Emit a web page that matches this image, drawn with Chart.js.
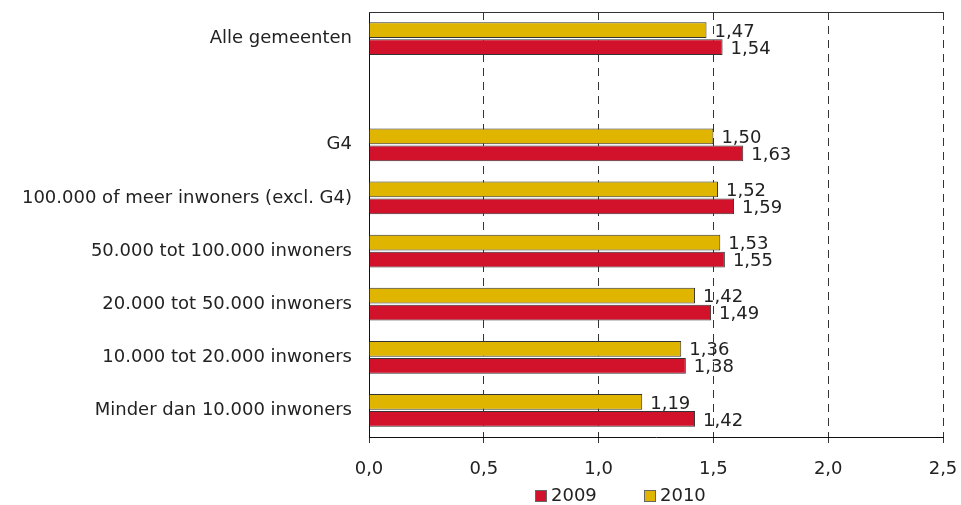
<!DOCTYPE html>
<html>
<head>
<meta charset="utf-8">
<script src="https://cdn.jsdelivr.net/npm/chart.js@4/dist/chart.umd.min.js"></script>
<style>
  html, body { margin: 0; padding: 0; background: #fff; }
  #wrap { width: 961px; height: 505px; }
</style>
</head>
<body>
<div id="wrap"><canvas id="chart"></canvas></div>
<script>
// ================== Data ==================
const categories = [
  'Alle gemeenten',
  '',
  'G4',
  '100.000 of meer inwoners (excl. G4)',
  '50.000 tot 100.000 inwoners',
  '20.000 tot 50.000 inwoners',
  '10.000 tot 20.000 inwoners',
  'Minder dan 10.000 inwoners'
];
const values2010 = [1.47, null, 1.50, 1.52, 1.53, 1.42, 1.36, 1.19];
const values2009 = [1.54, null, 1.63, 1.59, 1.55, 1.49, 1.38, 1.42];
const xTicks = [0, 0.5, 1.0, 1.5, 2.0, 2.5];

const FONT = "'DejaVu Sans', Verdana, sans-serif";
const FSIZE = 18;
const fmt = v => v.toFixed(2).replace('.', ',');

// Plugin: value labels at end of bars
const BarLabelPlugin = {
  id: 'barLabels',
  afterDatasetsDraw(chart) {
    const { ctx } = chart;
    ctx.save();
    ctx.font = FSIZE + 'px ' + FONT;
    ctx.fillStyle = '#222';
    ctx.textAlign = 'left';
    ctx.textBaseline = 'middle';
    chart.data.datasets.forEach((ds, i) => {
      chart.getDatasetMeta(i).data.forEach((bar, j) => {
        const v = ds.data[j];
        if (v == null) return;
        ctx.fillText(fmt(v), bar.x + 8, bar.y + 2);
      });
    });
    ctx.restore();
  }
};

// Plugin: top border of plot area
const TopLinePlugin = {
  id: 'topLine',
  afterDraw(chart) {
    const { ctx, chartArea: a } = chart;
    ctx.save();
    ctx.strokeStyle = '#333';
    ctx.lineWidth = 1;
    ctx.beginPath();
    ctx.moveTo(a.left, a.top + 0.5);
    ctx.lineTo(a.right, a.top + 0.5);
    ctx.stroke();
    ctx.restore();
  }
};

// Plugin: legend below the axis (2009 first, then 2010)
const LegendPlugin = {
  id: 'bottomLegend',
  afterDraw(chart) {
    const { ctx } = chart;
    const items = chart.data.datasets.slice().reverse();
    let x = 535;
    const y = 496;
    ctx.save();
    ctx.font = FSIZE + 'px ' + FONT;
    ctx.textBaseline = 'middle';
    items.forEach(ds => {
      ctx.fillStyle = ds.backgroundColor;
      ctx.fillRect(x, y - 6, 12, 12);
      ctx.strokeStyle = '#666';
      ctx.lineWidth = 1;
      ctx.strokeRect(x + 0.5, y - 5.5, 11, 11);
      ctx.fillStyle = '#222';
      ctx.fillText(ds.label, x + 16, y);
      x += 109;
    });
    ctx.restore();
  }
};

new Chart(document.getElementById('chart'), {
  type: 'bar',
  plugins: [BarLabelPlugin, TopLinePlugin, LegendPlugin],
  data: {
    labels: categories,
    datasets: [
      { label: '2010', data: values2010, backgroundColor: '#DFB500', borderColor: '#333', borderWidth: 1 },
      { label: '2009', data: values2009, backgroundColor: '#D2122A', borderColor: '#333', borderWidth: 1 }
    ]
  },
  options: {
    indexAxis: 'y',
    responsive: true,
    maintainAspectRatio: false,
    animation: false,
    categoryPercentage: 0.64,
    barPercentage: 0.92,
    layout: { padding: { top: 12, right: 18, left: 0, bottom: 28 } },
    plugins: {
      tooltip: { enabled: false },
      legend: { display: false }
    },
    scales: {
      x: {
        min: 0,
        max: 2.5,
        afterBuildTicks: s => { s.ticks = xTicks.map(v => ({ value: v })); },
        afterFit: s => {
          s.height = 40;
          s.paddingLeft = 0; s.paddingRight = 0;
        },
        ticks: {
          font: { family: FONT, size: FSIZE },
          color: '#222',
          padding: 16,
          maxRotation: 0,
          callback: v => v.toFixed(1).replace('.', ',')
        },
        grid: {
          color: '#333',
          tickColor: '#333',
          tickLength: 6,
          lineWidth: 1
        },
        border: { color: '#111', width: 1, dash: [8, 6] }
      },
      y: {
        afterFit: s => {
          s.width = 369;
          s.paddingTop = 0; s.paddingBottom = 0;
        },
        ticks: {
          font: { family: FONT, size: FSIZE },
          color: '#222',
          padding: 17
        },
        grid: { display: false, drawTicks: false },
        border: { color: '#111', width: 1 }
      }
    }
  }
});
</script>
</body>
</html>
